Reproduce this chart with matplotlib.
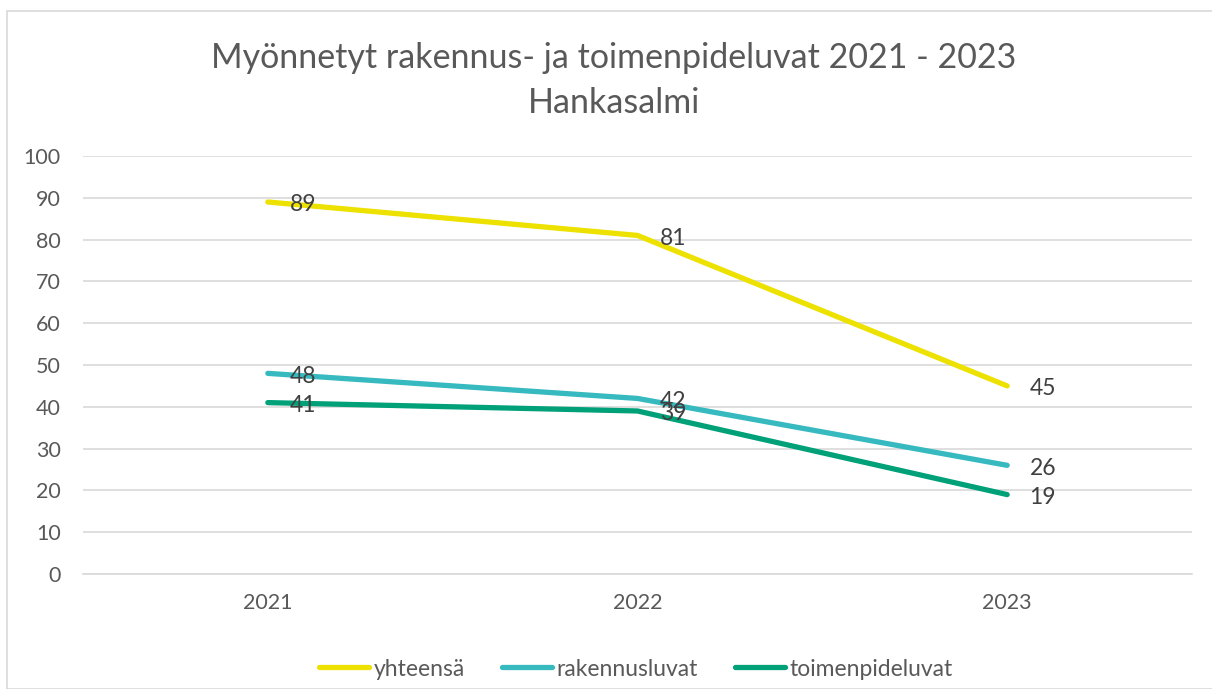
import matplotlib.pyplot as plt
from matplotlib.patches import Rectangle

years = ['2021', '2022', '2023']
yhteensa = [89, 81, 45]
rakennusluvat = [48, 42, 26]
toimenpideluvat = [41, 39, 19]

series = [
    ('yhteensä', yhteensa, '#EDE100'),
    ('rakennusluvat', rakennusluvat, '#36B9BF'),
    ('toimenpideluvat', toimenpideluvat, '#00A078'),
]

plt.rcParams['font.family'] = ['Lato', 'DejaVu Sans']

fig = plt.figure(figsize=(12.12, 6.89), dpi=100)
ax = fig.add_axes([83 / 1212, 1 - 574 / 689, (1192 - 83) / 1212, (574 - 156) / 689])

x = range(len(years))
for name, vals, col in series:
    ax.plot(x, vals, color=col, lw=3.8, label=name, solid_capstyle='round',
            solid_joinstyle='round')
    for xi, v in zip(x, vals):
        ax.annotate(str(v), (xi, v), xytext=(16, -2), textcoords='offset points',
                    ha='left', va='center', fontsize=16.5, color='#404040')

ax.set_xlim(-0.5, 2.5)
ax.set_ylim(0, 100)
ax.set_yticks(range(0, 101, 10))
ax.set_xticks(list(x))
ax.set_xticklabels(years)
ax.grid(axis='y', color='#D9D9D9', lw=1.2)
ax.set_axisbelow(True)
for s in ['top', 'right', 'left']:
    ax.spines[s].set_visible(False)
ax.spines['bottom'].set_color('#D9D9D9')
ax.spines['bottom'].set_linewidth(1.2)
ax.tick_params(axis='both', length=0, labelsize=15.5, colors='#595959')
ax.tick_params(axis='y', pad=16)
ax.tick_params(axis='x', pad=14)

fig.text(614 / 1212, 1 - 58 / 689, 'Myönnetyt rakennus- ja toimenpideluvat 2021 - 2023',
         ha='center', va='center', fontsize=24.5, color='#595959')
fig.text(614 / 1212, 1 - 103 / 689, 'Hankasalmi', ha='center', va='center',
         fontsize=24.5, color='#595959')

fig.legend(loc='center', bbox_to_anchor=(636 / 1212, 1 - 669 / 689), ncol=3, frameon=False,
           fontsize=16.5, handlelength=2.2, handletextpad=0.2, columnspacing=1.6,
           labelcolor='#595959')

fig.patches.append(Rectangle((7 / 1212, 0), 1.2, 1 - 11 / 689, transform=fig.transFigure,
                             fill=False, edgecolor='#D9D9D9', lw=1.2))

fig.savefig('out.png', dpi=100)
